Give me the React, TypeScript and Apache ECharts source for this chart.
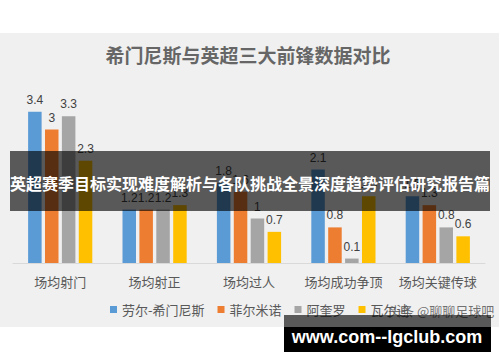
import React, { useEffect, useRef } from "react";
import * as echarts from "echarts";

const categories = ["场均射门", "场均射正", "场均过人", "场均成功争顶", "场均关键传球"];
const seriesNames = ["劳尔-希门尼斯", "菲尔米诺", "阿奎罗", "瓦尔迪"];
const jimenez = [3.4, 1.2, 1.8, 2.1, 1.5];
const firmino = [3, 1.2, 1.6, 0.8, 1.3];
const aguero = [3.3, 1.2, 1, 0.1, 0.8];
const vardy = [2.3, 1.3, 0.7, 1.5, 0.6];
const colors = ["#5b9bd5", "#ed7d31", "#a5a5a5", "#ffc000"];
const titleText = "希门尼斯与英超三大前锋数据对比";
const bannerText = "英超赛季目标实现难度解析与各队挑战全景深度趋势评估研究报告篇";
const siteText = "www.com--lgclub.com";
const watermarkText = "头条 @聊聊足球吧";

export default function App() {
  const ref = useRef<HTMLDivElement>(null);
  useEffect(() => {
    document.body.style.margin = "0";
    if (!ref.current) return;
    const chart = echarts.init(ref.current, undefined, { renderer: "svg" });
    const values = [jimenez, firmino, aguero, vardy];
    const font = "'Noto Sans CJK SC', 'Noto Sans', sans-serif";
    chart.setOption({
      animation: false,
      backgroundColor: "#ffffff",
      textStyle: { fontFamily: font },
      grid: { left: 13, right: 15, top: 85, bottom: 99, containLabel: false },
      xAxis: {
        type: "category",
        data: categories,
        axisLine: { show: true, lineStyle: { color: "#d9d9d9", width: 1 } },
        axisTick: { show: false },
        axisLabel: { color: "#595959", fontSize: 13, margin: 12, interval: 0, fontFamily: font },
      },
      yAxis: {
        type: "value",
        min: 0,
        max: 4,
        show: false,
        splitLine: { show: false },
      },
      legend: {
        data: seriesNames,
        left: 105,
        top: 298,
        icon: "rect",
        itemWidth: 7,
        itemHeight: 7,
        itemGap: 13,
        textStyle: { color: "#595959", fontSize: 13, fontFamily: font, padding: [0, 0, 0, 0] },
      },
      series: values.map((v, i) => ({
        name: seriesNames[i],
        type: "bar",
        data: v,
        barGap: "25%",
        barCategoryGap: "32%",
        itemStyle: { color: colors[i] },
        z: 2,
        label: {
          show: true,
          position: "top",
          distance: 6,
          color: "#404040",
          fontSize: 12,
          fontFamily: "'Liberation Sans', Arial, sans-serif",
        },
      })),
      graphic: [
        {
          type: "rect",
          z: -10,
          silent: true,
          shape: { x: 0, y: 33, width: 499, height: 294 },
          style: { fill: "#f0f0f0" },
        },
        {
          type: "text",
          z: 10,
          x: 248,
          y: 54,
          style: {
            text: titleText,
            fill: "#666666",
            font: `bold 19px ${font}`,
            textAlign: "center",
            textVerticalAlign: "middle",
          },
        },
        {
          type: "rect",
          z: 100,
          silent: true,
          shape: { x: 10, y: 151, width: 480, height: 60 },
          style: { fill: "rgba(0,0,0,0.63)" },
        },
        {
          type: "text",
          z: 101,
          x: 250,
          y: 183,
          style: {
            text: bannerText,
            fill: "#ffffff",
            font: `bold 16px ${font}`,
            textAlign: "center",
            textVerticalAlign: "middle",
          },
        },
        {
          type: "text",
          z: 100,
          x: 388,
          y: 310,
          style: {
            text: watermarkText,
            fill: "rgba(90,90,90,0.85)",
            font: `13px ${font}`,
            textAlign: "left",
            textVerticalAlign: "middle",
          },
        },
        {
          type: "rect",
          z: 102,
          silent: true,
          shape: { x: 284, y: 315, width: 207, height: 12 },
          style: { fill: "rgba(0,0,0,0.63)" },
        },
        {
          type: "rect",
          z: 102,
          silent: true,
          shape: { x: 284, y: 327, width: 207, height: 25 },
          style: { fill: "#000000" },
        },
        {
          type: "text",
          z: 103,
          x: 387,
          y: 337,
          style: {
            text: siteText,
            fill: "#ffffff",
            font: "bold 18px 'Liberation Sans', Arial, sans-serif",
            textAlign: "center",
            textVerticalAlign: "middle",
          },
        },
      ],
    });
    return () => chart.dispose();
  }, []);
  return (
    <div
      ref={ref}
      style={{ position: "fixed", left: 0, top: 0, width: 500, height: 362 }}
    />
  );
}
